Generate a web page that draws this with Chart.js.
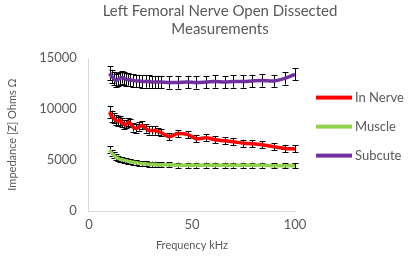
<!DOCTYPE html>
<html>
<head>
<meta charset="utf-8">
<script src="https://cdn.jsdelivr.net/npm/chart.js@4.4.0/dist/chart.umd.min.js"></script>
<style>
  html, body { margin: 0; padding: 0; background: #fff; }
  #wrap { width: 408px; height: 258px; }
</style>
</head>
<body>
<div id="wrap"><canvas id="myChart"></canvas></div>
<script>
const freqs = [10, 11, 12, 13, 14, 15, 16, 17, 18, 19, 20, 21.5, 23, 24.5, 26, 27.5, 29, 30.5, 32, 33.5, 35,
  39, 43, 48, 52, 57, 61, 66, 70, 75, 79, 84, 90, 95, 100];

const inNerve = [9700, 9300, 9100, 8900, 8800, 8900, 8700, 8500, 8500, 8700, 8600, 8200, 8100, 8300, 8400, 8100, 7900, 7900, 7900, 7800, 7700,
  7300, 7600, 7500, 7100, 7200, 7000, 6900, 6800, 6650, 6600, 6500, 6300, 6150, 6100];
const inNerveErr = [600, 550, 500, 500, 450, 450, 450, 450, 400, 400, 400, 400, 400, 400, 400, 400, 400, 400, 400, 350, 350,
  350, 350, 350, 350, 350, 350, 350, 350, 350, 350, 350, 350, 350, 350];

const muscle = [6000, 5700, 5500, 5300, 5200, 5100, 5050, 5000, 4950, 4900, 4850, 4800, 4750, 4700, 4650, 4650, 4600, 4600, 4600, 4550, 4550,
  4550, 4500, 4500, 4500, 4500, 4500, 4500, 4500, 4500, 4500, 4500, 4450, 4450, 4450];
const muscleErr = [350, 300, 300, 300, 250, 250, 250, 250, 250, 250, 250, 250, 250, 250, 250, 250, 250, 250, 250, 250, 250,
  250, 250, 250, 250, 250, 250, 250, 250, 250, 250, 250, 250, 250, 250];

const subcute = [13500, 13200, 13000, 12800, 12900, 13000, 13100, 13000, 12900, 12900, 12850, 12800, 12750, 12750, 12700, 12700, 12700, 12650, 12650, 12650, 12650,
  12600, 12600, 12650, 12600, 12650, 12700, 12650, 12700, 12700, 12750, 12800, 12750, 13000, 13400];
const subcuteErr = [700, 650, 650, 600, 600, 600, 600, 600, 600, 600, 600, 600, 600, 600, 600, 600, 600, 600, 600, 600, 600,
  600, 600, 600, 600, 600, 600, 600, 600, 600, 600, 600, 600, 600, 600];

const yTicks = [0, 5000, 10000, 15000];
const xTicks = [0, 50, 100];

function toPoints(ys) {
  return freqs.map((f, i) => ({ x: f, y: ys[i] }));
}

const fontFam = 'Lato, "Open Sans", sans-serif';

// draws the black error bars behind each line
const errorBars = {
  id: 'errorBars',
  beforeDatasetsDraw(chart) {
    const { ctx, scales: { y } } = chart;
    ctx.save();
    ctx.strokeStyle = '#000';
    ctx.lineWidth = 1;
    chart.data.datasets.forEach((ds, i) => {
      const meta = chart.getDatasetMeta(i);
      meta.data.forEach((pt, j) => {
        const v = ds.data[j].y;
        const e = ds.errors[j];
        const top = y.getPixelForValue(v + e);
        const bot = y.getPixelForValue(v - e);
        const x = Math.round(pt.x) + 0.5;
        ctx.beginPath();
        ctx.moveTo(x, top);
        ctx.lineTo(x, bot);
        ctx.moveTo(x - 3, Math.round(top) + 0.5);
        ctx.lineTo(x + 3, Math.round(top) + 0.5);
        ctx.moveTo(x - 3, Math.round(bot) + 0.5);
        ctx.lineTo(x + 3, Math.round(bot) + 0.5);
        ctx.stroke();
      });
    });
    ctx.restore();
  },
};

// excel centres the title a bit right of the canvas middle
const titleShift = {
  id: 'titleShift',
  afterLayout(chart) {
    if (chart.titleBlock) {
      chart.titleBlock.left = 36;
      chart.titleBlock.right = 404;
    }
  },
};

// legend on the right, drawn by hand since the built-in one gets squeezed
const sideLegend = {
  id: 'sideLegend',
  afterDraw(chart) {
    const { ctx } = chart;
    const x0 = chart.chartArea.right + 21;
    const yMid = (chart.chartArea.top + chart.chartArea.bottom) / 2 - 8;
    const gap = 29;
    ctx.save();
    ctx.font = '13px ' + fontFam;
    ctx.textAlign = 'left';
    ctx.textBaseline = 'middle';
    chart.data.datasets.forEach((ds, i) => {
      const yy = yMid + (i - 1) * gap;
      ctx.fillStyle = ds.borderColor;
      ctx.fillRect(x0, yy - 2, 36, 4);
      ctx.fillStyle = '#595959';
      ctx.fillText(ds.label, x0 + 39, yy);
    });
    ctx.restore();
  },
};

const config = {
  type: 'line',
  data: {
    datasets: [
      { label: 'In Nerve', data: toPoints(inNerve), errors: inNerveErr, borderColor: '#ff0000', backgroundColor: '#ff0000' },
      { label: 'Muscle', data: toPoints(muscle), errors: muscleErr, borderColor: '#92d050', backgroundColor: '#92d050' },
      { label: 'Subcute', data: toPoints(subcute), errors: subcuteErr, borderColor: '#7030a0', backgroundColor: '#7030a0' },
    ],
  },
  options: {
    responsive: true,
    maintainAspectRatio: false,
    animation: false,
    layout: { padding: { left: 2, right: 113, top: 2, bottom: 2 } },
    elements: {
      line: { borderWidth: 3.5, tension: 0.3 },
      point: { radius: 0 },
    },
    scales: {
      x: {
        type: 'linear',
        min: 0,
        max: 100,
        afterBuildTicks: (axis) => { axis.ticks = xTicks.map(v => ({ value: v })); },
        grid: { display: false, drawTicks: false },
        border: { color: '#d9d9d9' },
        ticks: { color: '#595959', font: { family: fontFam, size: 13 }, padding: 6, callback: (v) => String(v) },
        title: { display: true, text: 'Frequency kHz', color: '#595959', font: { family: fontFam, size: 11 }, padding: { top: 0 } },
      },
      y: {
        min: 0,
        max: 15000,
        afterBuildTicks: (axis) => { axis.ticks = yTicks.map(v => ({ value: v })); },
        grid: { display: false, drawTicks: false },
        border: { color: '#d9d9d9' },
        ticks: { color: '#595959', font: { family: fontFam, size: 13 }, padding: 12, callback: (v) => String(v) },
        title: { display: true, text: 'Impedance [Z] Ohms Ω', color: '#595959', font: { family: fontFam, size: 11 }, padding: { bottom: 8 } },
      },
    },
    plugins: {
      title: {
        display: true,
        text: ['Left Femoral Nerve Open Dissected', 'Measurements'],
        color: '#595959',
        font: { family: fontFam, size: 15, weight: 'normal' },
        padding: { top: 0, bottom: 20 },
      },
      legend: { display: false },
      tooltip: { enabled: false },
    },
  },
  plugins: [errorBars, titleShift, sideLegend],
};

document.fonts.load('13px Lato').then(() => {
  const myChart = new Chart(document.getElementById('myChart'), config);
});
</script>
</body>
</html>
